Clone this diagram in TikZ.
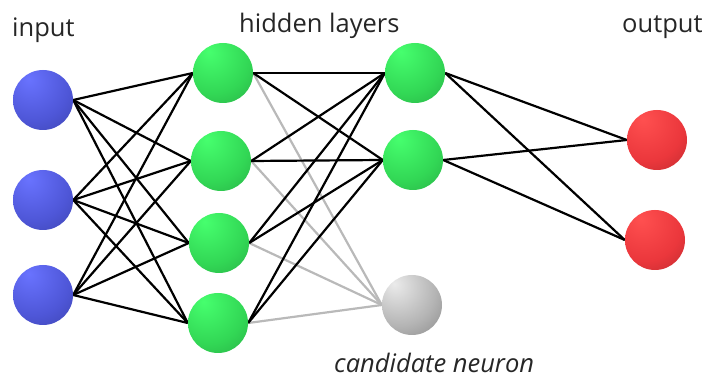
\documentclass[tikz,border=0pt]{standalone}
\usepackage{fontspec}
\setmainfont{Open Sans}
\usetikzlibrary{backgrounds}
\definecolor{bHi}{RGB}{105,115,255}
\definecolor{bMid}{RGB}{78,86,215}
\definecolor{bLo}{RGB}{45,50,140}
\definecolor{gHi}{RGB}{70,255,110}
\definecolor{gMid}{RGB}{50,215,85}
\definecolor{gLo}{RGB}{30,140,55}
\definecolor{rHi}{RGB}{255,80,80}
\definecolor{rMid}{RGB}{235,55,60}
\definecolor{rLo}{RGB}{150,30,35}
\definecolor{yHi}{RGB}{235,235,235}
\definecolor{yMid}{RGB}{180,180,180}
\definecolor{yLo}{RGB}{95,95,95}
\definecolor{faint}{RGB}{185,185,185}
\pgfdeclareradialshading{blueball}{\pgfpoint{-12bp}{18bp}}{color(0bp)=(bHi); color(30bp)=(bMid); color(66bp)=(bLo); color(100bp)=(bLo)}
\pgfdeclareradialshading{greenball}{\pgfpoint{-12bp}{18bp}}{color(0bp)=(gHi); color(30bp)=(gMid); color(66bp)=(gLo); color(100bp)=(gLo)}
\pgfdeclareradialshading{redball}{\pgfpoint{-12bp}{18bp}}{color(0bp)=(rHi); color(30bp)=(rMid); color(66bp)=(rLo); color(100bp)=(rLo)}
\pgfdeclareradialshading{grayball}{\pgfpoint{-15bp}{18bp}}{color(0bp)=(yHi); color(30bp)=(yMid); color(68bp)=(yLo); color(100bp)=(yLo)}
\tikzset{
  neuron/.style={circle, minimum size=60pt, inner sep=0pt},
  inneuron/.style={neuron, shading=blueball},
  hidneuron/.style={neuron, shading=greenball},
  outneuron/.style={neuron, shading=redball},
  candneuron/.style={neuron, shading=grayball},
  conn/.style={line width=2.2pt, black},
  candconn/.style={line width=2.2pt, faint},
  lbl/.style={font=\fontsize{25.5}{30}\selectfont, text=black!85, inner sep=0pt, anchor=base west}
}
\begin{document}
\begin{tikzpicture}[x=1pt,y=1pt]
\useasboundingbox (0,0) rectangle (707,380);
% input layer
\node[inneuron] (i1) at (43,280) {};
\node[inneuron] (i2) at (43,180) {};
\node[inneuron] (i3) at (43,85) {};
% hidden layer 1
\node[hidneuron] (h1) at (223,307) {};
\node[hidneuron] (h2) at (221,219) {};
\node[hidneuron] (h3) at (219,137) {};
\node[hidneuron] (h4) at (218,57) {};
% hidden layer 2
\node[hidneuron] (k1) at (415,307) {};
\node[hidneuron] (k2) at (413,220) {};
\node[candneuron] (c) at (412,75) {};
% output
\node[outneuron] (o1) at (657,240) {};
\node[outneuron] (o2) at (655,140) {};
% labels
\node[lbl] (tin) at (12,343) {input};
\node[lbl] (thid) at (239,347) {hidden layers};
\node[lbl] (tout) at (622,347) {output};
\node[lbl, font=\fontsize{25.5}{30}\selectfont\itshape] (tcand) at (334,7) {candidate neuron};
\begin{scope}[on background layer]
\foreach \a in {i1,i2,i3}{\foreach \b in {h1,h2,h3,h4}{\draw[conn] (\a.east) -- (\b.west);}}
\foreach \a in {h1,h2,h3,h4}{\draw[candconn] (\a.east) -- (c.west);}
\foreach \a in {h1,h2,h3,h4}{\foreach \b in {k1,k2}{\draw[conn] (\a.east) -- (\b.west);}}
\foreach \a in {k1,k2}{\foreach \b in {o1,o2}{\draw[conn] (\a.east) -- (\b.west);}}
\end{scope}
\end{tikzpicture}
\end{document}
